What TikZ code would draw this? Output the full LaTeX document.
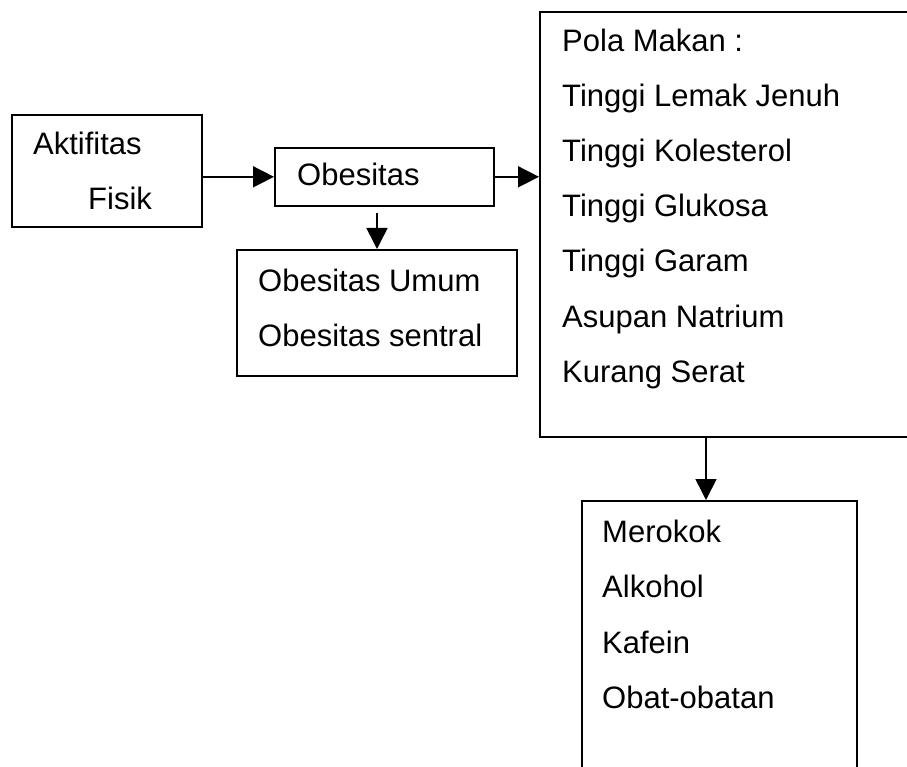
\documentclass[tikz,border=0pt]{standalone}
\usepackage{fontspec}
\setmainfont{Liberation Sans}
\usetikzlibrary{arrows.meta}
\begin{document}
\begin{tikzpicture}[x=1pt,y=-1pt,
  box/.style={draw,line width=1.6pt,rectangle,inner sep=0pt},
  lbl/.style={anchor=base west,inner sep=0pt,font=\fontsize{31}{36}\selectfont},
  arr/.style={line width=1.6pt,-{Triangle[length=21pt,width=21pt]}}]
\useasboundingbox (0,0) rectangle (907,767);
\clip (0,0) rectangle (907,767);
% boxes
\node[box,minimum width=190pt,minimum height=112pt,anchor=north west] (akt) at (11,114) {};
\node[box,minimum width=219pt,minimum height=58pt,anchor=north west] (obe) at (274,147) {};
\node[box,minimum width=280pt,minimum height=126pt,anchor=north west] (umum) at (236,249) {};
\node[box,minimum width=380pt,minimum height=425pt,anchor=north west] (pola) at (539,11) {};
\node[box,minimum width=275pt,minimum height=290pt,anchor=north west] (mero) at (581,500) {};
% texts
\node[lbl] (t1) at (33,155) {Aktifitas};
\node[lbl] (t2) at (88,210) {Fisik};
\node[lbl] (t3) at (297,186) {Obesitas};
\node[lbl] (t4) at (258,291) {Obesitas Umum};
\node[lbl] (t5) at (258,346) {Obesitas sentral};
\node[lbl] (p1) at (562,52) {Pola Makan :};
\node[lbl] (p2) at (562,107) {Tinggi Lemak Jenuh};
\node[lbl] (p3) at (562,162) {Tinggi Kolesterol};
\node[lbl] (p4) at (562,217) {Tinggi Glukosa};
\node[lbl] (p5) at (562,272) {Tinggi Garam};
\node[lbl] (p6) at (562,327) {Asupan Natrium};
\node[lbl] (p7) at (562,382) {Kurang Serat};
\node[lbl] (m1) at (602,542) {Merokok};
\node[lbl] (m2) at (602,597) {Alkohol};
\node[lbl] (m3) at (602,653) {Kafein};
\node[lbl] (m4) at (602,708) {Obat-obatan};
% connectors
\coordinate (d1) at (377,213);
\coordinate (d2) at (706,436);
\draw[arr] (akt.east |- obe.west) -- (obe.west);
\draw[arr] (obe.east) -- (obe.east -| pola.west);
\draw[arr] (d1) -- (d1 |- umum.north);
\draw[arr] (d2) -- (d2 |- mero.north);
\end{tikzpicture}
\end{document}
